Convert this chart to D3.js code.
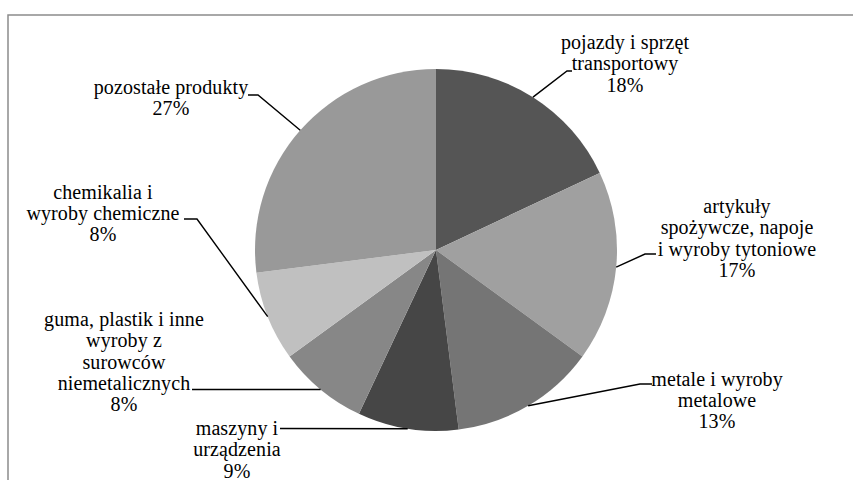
<!DOCTYPE html>
<html><head><meta charset="utf-8">
<script src="https://cdn.jsdelivr.net/npm/d3@7/dist/d3.min.js"></script>
<style>body{margin:0;background:#fff}svg{display:block}</style>
</head><body>
<svg id="chart" width="853" height="480"></svg>
<script>
const categories = [
  "pojazdy i sprzęt transportowy",
  "artykuły spożywcze, napoje i wyroby tytoniowe",
  "metale i wyroby metalowe",
  "maszyny i urządzenia",
  "guma, plastik i inne wyroby z surowców niemetalicznych",
  "chemikalia i wyroby chemiczne",
  "pozostałe produkty"
];
const values = [18, 17, 13, 9, 8, 8, 27];
const percentLabels = ["18%", "17%", "13%", "9%", "8%", "8%", "27%"];
const labelLines = [
  ["pojazdy i sprzęt", "transportowy"],
  ["artykuły", "spożywcze, napoje", "i wyroby tytoniowe"],
  ["metale i wyroby", "metalowe"],
  ["maszyny i", "urządzenia"],
  ["guma, plastik i inne", "wyroby z", "surowców", "niemetalicznych"],
  ["chemikalia i", "wyroby chemiczne"],
  ["pozostałe produkty"]
];
const colors = ["#555555", "#a0a0a0", "#757575", "#464646", "#878787", "#c0c0c0", "#999999"];

// layout (positions only)
const cx = 436, cy = 250, R = 181;
const labelLayout = [
  {x: 625, y: 49,  pts: [[567, 71], [572, 71]]},
  {x: 737, y: 213, pts: [[645, 254], [656, 254]]},
  {x: 717, y: 385.5, pts: [[640, 384], [652, 384]]},
  {x: 237, y: 435, pts: [[280, 428.5]]},
  {x: 124, y: 326, pts: [[192, 389.5]]},
  {x: 103, y: 198.5, pts: [[197, 219], [184, 219]]},
  {x: 171, y: 94, pts: [[258, 95], [248, 95]]}
];
const lineStep = 21.3;

const svg = d3.select("#chart");
svg.append("rect").attr("x", 8).attr("y", 15).attr("width", 900).attr("height", 500)
  .attr("fill", "#fff").attr("stroke", "#8c8c8c").attr("stroke-width", 1.5);

const data = categories.map((c, i) => ({name: c, value: values[i], i}));
const pie = d3.pie().sort(null).value(d => d.value);
const arcs = pie(data);
const arc = d3.arc().innerRadius(0).outerRadius(R);

const g = svg.append("g").attr("transform", `translate(${cx},${cy})`);
g.selectAll("path.slice").data(arcs).join("path")
  .attr("class", "slice")
  .attr("d", arc)
  .attr("fill", d => colors[d.data.i]);

// leader lines
arcs.forEach((a, i) => {
  const m = (a.startAngle + a.endAngle) / 2;
  const p0 = [cx + R * Math.sin(m), cy - R * Math.cos(m)];
  const pts = [p0].concat(labelLayout[i].pts);
  svg.append("path")
    .attr("d", d3.line()(pts))
    .attr("fill", "none").attr("stroke", "#000").attr("stroke-width", 1.4);
});

// labels
arcs.forEach((a, i) => {
  const L = labelLayout[i];
  const lines = labelLines[i].concat([percentLabels[i]]);
  const t = svg.append("text")
    .attr("text-anchor", "middle")
    .attr("font-family", "'Liberation Serif','Times New Roman',serif")
    .attr("font-size", 20)
    .attr("letter-spacing", 0.1)
    .attr("fill", "#000");
  lines.forEach((ln, k) => {
    t.append("tspan").attr("x", L.x).attr("y", L.y + k * lineStep).text(ln);
  });
});
</script>
</body></html>
